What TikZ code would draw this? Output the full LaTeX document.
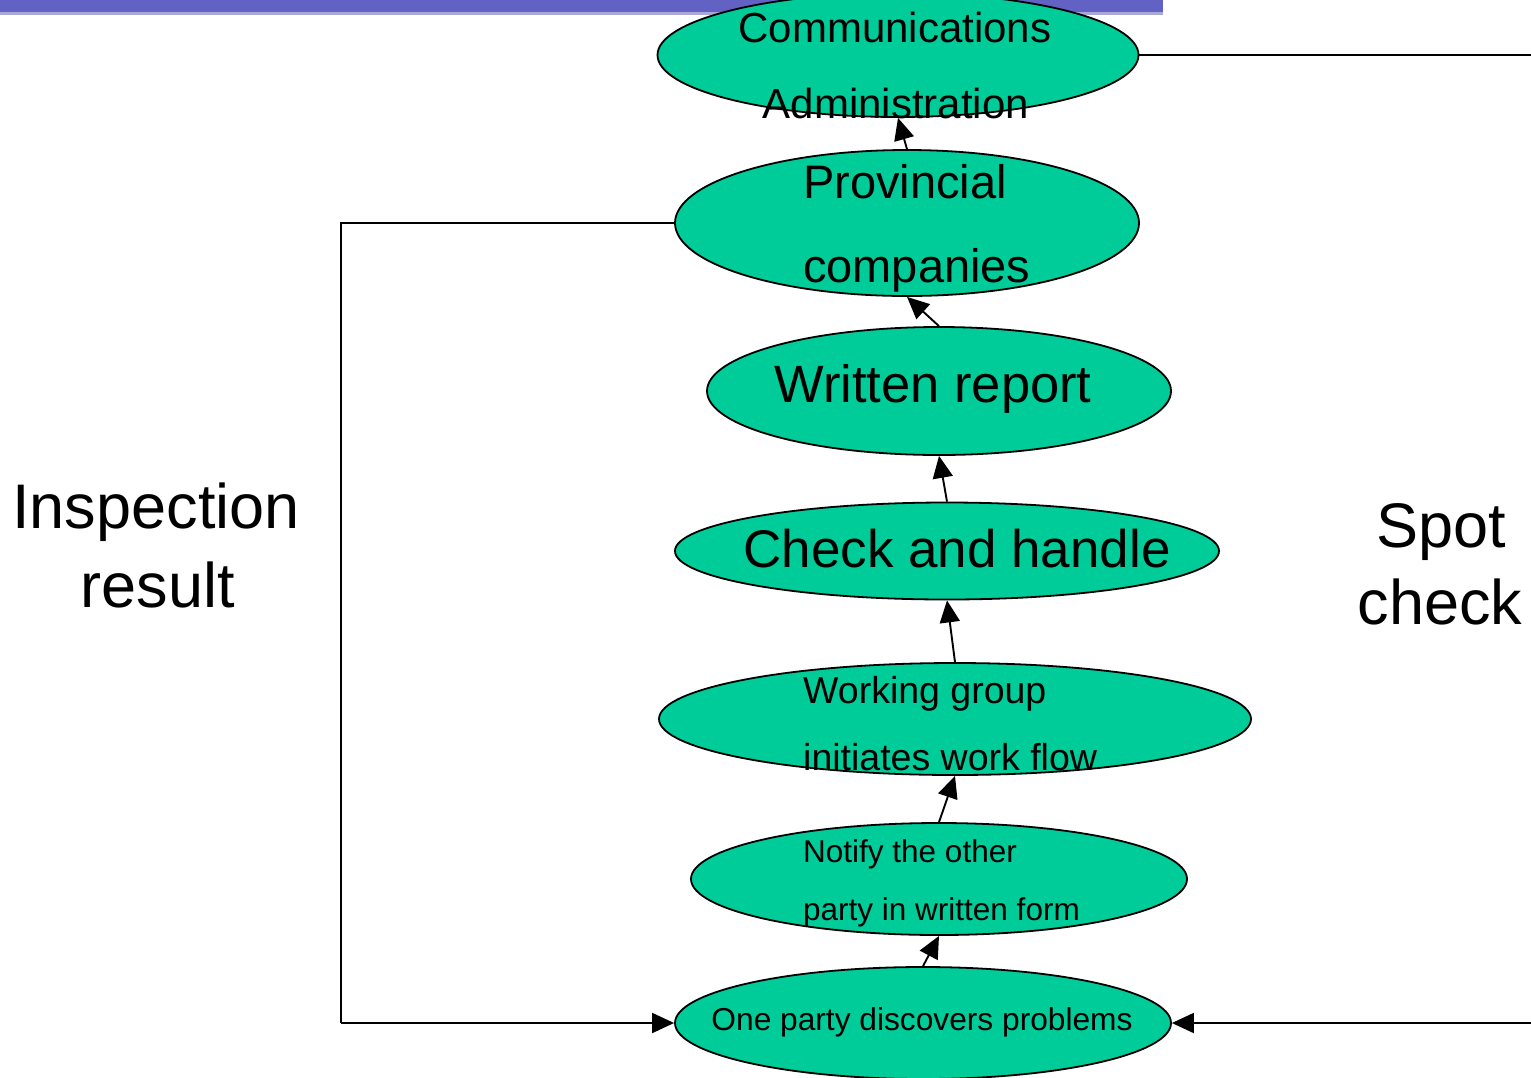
\documentclass[tikz,border=0pt]{standalone}
\usepackage{fontspec}
\setmainfont{Liberation Sans}
\usetikzlibrary{shapes.geometric,arrows.meta}
\definecolor{ovalfill}{HTML}{00CC99}
\definecolor{barblue}{HTML}{6262C4}
\definecolor{barlight}{HTML}{A9A9D8}
\tikzset{
  oval/.style={ellipse, draw=black, line width=1.8pt, fill=ovalfill, inner sep=0pt},
  lbl/.style={inner sep=0pt, text=black},
  conn/.style={line width=1.9pt, draw=black},
  arr/.style={conn, -{Triangle[length=22pt, width=20pt]}},
}
\newcommand{\fs}[1]{\fontsize{#1}{#1}\selectfont}
\begin{document}
\begin{tikzpicture}[x=1pt, y=-1pt]
\useasboundingbox (0,0) rectangle (1531,1077);
\clip (0,0) rectangle (1531,1077);

% title band at the top edge
\fill[barblue] (0,0) rectangle (1163,12);
\fill[barlight] (0,12) rectangle (1163,15);

% process ovals
\node[oval, minimum width=481pt, minimum height=124pt] (ca) at (898,55) {};
\node[oval, minimum width=464pt, minimum height=146pt] (pc) at (907,223) {};
\node[oval, minimum width=464pt, minimum height=128pt] (wr) at (939,391) {};
\node[oval, minimum width=544pt, minimum height=97pt]  (ck) at (947,551) {};
\node[oval, minimum width=592pt, minimum height=112pt] (wg) at (955,719) {};
\node[oval, minimum width=496pt, minimum height=112pt] (nt) at (939,879) {};
\node[oval, minimum width=496pt, minimum height=112pt] (op) at (923,1023) {};

% feedback loops
\coordinate (lt) at (341,223);
\coordinate (lb) at (341,1023);
\coordinate (rt) at (1545,55);
\coordinate (rb) at (1545,1023);
\draw[conn] (pc.west) -- (lt) -- (lb);
\draw[arr] (lb) -- (op.west);
\draw[conn] (ca.east) -- (rt) -- (rb);
\draw[arr] (rb) -- (op.east);

% upward chain
\draw[arr] (op.north) -- (nt.south);
\draw[arr] (nt.north) -- (wg.south);
\draw[arr] (wg.north) -- (ck.south);
\draw[arr] (ck.north) -- (wr.south);
\draw[arr] (wr.north) -- (pc.south);
\draw[arr] (pc.north) -- (ca.south);

% oval texts
\node[lbl, anchor=base] (ca1) at (895,42) {\fs{42}Communications};
\node[lbl, anchor=base] (ca2) at (896,118) {\fs{42}Administration};
\node[lbl, anchor=base west] (pc1) at (803,198) {\fs{47}Provincial};
\node[lbl, anchor=base west] (pc2) at (803,282) {\fs{47}companies};
\node[lbl, anchor=base] (wr1) at (933,402) {\fs{52.5}Written report};
\node[lbl, anchor=base] (ck1) at (957,567) {\fs{53}Check and handle};
\node[lbl, anchor=base west] (wg1) at (803,703) {\fs{37.5}Working group};
\node[lbl, anchor=base west] (wg2) at (803,770) {\fs{37.5}initiates work flow};
\node[lbl, anchor=base west] (nt1) at (803,862) {\fs{31.5}Notify the other};
\node[lbl, anchor=base west] (nt2) at (803,920) {\fs{31.5}party in written form};
\node[lbl, anchor=base] (op1) at (922,1030) {\fs{31.7}One party discovers problems};

% loop labels
\node[lbl, anchor=base] (ir1) at (156,528) {\fs{63}Inspection};
\node[lbl, anchor=base] (ir2) at (158,607) {\fs{63}result};
\node[lbl, anchor=base] (sc1) at (1441,547) {\fs{63}Spot};
\node[lbl, anchor=base] (sc2) at (1440,624) {\fs{63}check};
\end{tikzpicture}
\end{document}
